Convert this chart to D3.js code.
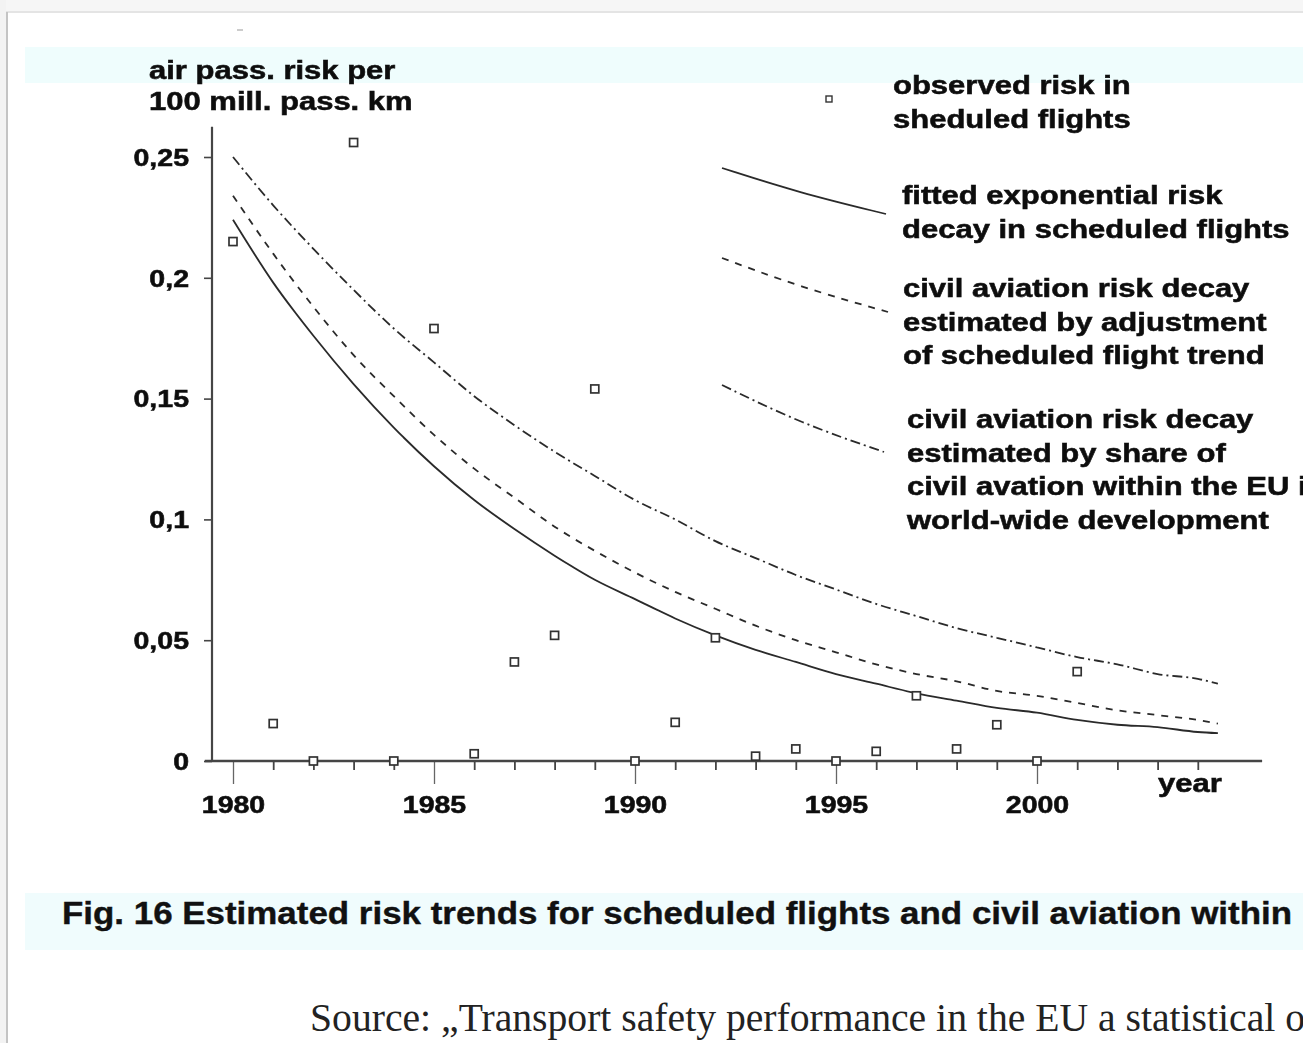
<!DOCTYPE html>
<html>
<head>
<meta charset="utf-8">
<script src="https://cdn.jsdelivr.net/npm/d3@7"></script>
<style>
  body { margin: 0; background: #fff; overflow: hidden; }
  svg { display: block; }
  .lbl { font-family: "Liberation Sans", Arial, sans-serif; font-weight: bold; fill: #111; stroke: #111; stroke-width: 0.55px; }
</style>
</head>
<body>
<svg id="chart" width="1303" height="1043"></svg>
<script>
// DATA
const curveYears   = [1980, 1981, 1982, 1983, 1984, 1985, 1986, 1987, 1988, 1989, 1990, 1991, 1992,
                      1993, 1994, 1995, 1996, 1997, 1998, 1999, 2000, 2001, 2002, 2003, 2004, 2004.5];
const fittedRisk   = [0.224, 0.198, 0.176, 0.156, 0.138, 0.122, 0.108, 0.096, 0.085, 0.075, 0.067, 0.059, 0.052,
                      0.046, 0.041, 0.036, 0.032, 0.028, 0.025, 0.022, 0.020, 0.017, 0.015, 0.014, 0.012, 0.0115];
const adjustedRisk = [0.234, 0.210, 0.188, 0.168, 0.151, 0.135, 0.121, 0.109, 0.097, 0.087, 0.078, 0.070, 0.063,
                      0.056, 0.050, 0.045, 0.040, 0.036, 0.033, 0.029, 0.027, 0.024, 0.021, 0.019, 0.017, 0.0155];
const shareRisk    = [0.250, 0.230, 0.212, 0.195, 0.179, 0.165, 0.151, 0.139, 0.128, 0.118, 0.108, 0.100, 0.091,
                      0.084, 0.077, 0.071, 0.065, 0.060, 0.055, 0.051, 0.047, 0.043, 0.040, 0.036, 0.034, 0.032];

const obsYears = [1980, 1981, 1982, 1983, 1984, 1985, 1986, 1987, 1988, 1989, 1990,
                  1991, 1992, 1993, 1994, 1995, 1996, 1997, 1998, 1999, 2000, 2001];
const obsRisk  = [0.215, 0.0155, 0.0, 0.256, 0.0, 0.179, 0.003, 0.041, 0.052, 0.154, 0.0,
                  0.016, 0.051, 0.002, 0.005, 0.0, 0.004, 0.027, 0.005, 0.015, 0.0, 0.037];

const yTicks      = [0, 0.05, 0.1, 0.15, 0.2, 0.25];
const yTickLabels = ["0", "0,05", "0,1", "0,15", "0,2", "0,25"];
const xMajor      = [1980, 1985, 1990, 1995, 2000];
const xMinor      = [1981, 1982, 1983, 1984, 1986, 1987, 1988, 1989, 1991, 1992, 1993, 1994,
                     1996, 1997, 1998, 1999, 2001, 2002, 2003, 2004];

const yTitle = ["air pass. risk per", "100 mill. pass. km"];
const legendObserved = ["observed risk in", "sheduled flights"];
const legendFitted   = ["fitted exponential risk", "decay in scheduled flights"];
const legendAdjusted = ["civil aviation risk decay", "estimated by adjustment", "of scheduled flight trend"];
const legendShare    = ["civil aviation risk decay", "estimated by share of", "civil avation within the EU in", "world-wide development"];
const caption = "Fig. 16 Estimated risk trends for scheduled flights and civil aviation within";
const source  = "Source: \u201ETransport safety performance in the EU a statistical o";

const svg = d3.select("#chart");
const STRETCH = 1.24;
const ink = "#2a2a2a";

// soft blur, like the scanned original
const defs = svg.append("defs");
defs.append("filter").attr("id", "soft")
  .append("feGaussianBlur").attr("stdDeviation", 0.45);

// stretch text horizontally like the wide scanned font
function stretch(sel, k) {
  sel.each(function () {
    const w = this.getComputedTextLength();
    d3.select(this).attr("textLength", w * k).attr("lengthAdjust", "spacingAndGlyphs");
  });
}

// page frame
svg.append("rect").attr("x", 0).attr("y", 0).attr("width", 1303).attr("height", 12).attr("fill", "#f6f6f6");
svg.append("rect").attr("x", 0).attr("y", 11).attr("width", 1303).attr("height", 2).attr("fill", "#e4e4e4");
svg.append("rect").attr("x", 0).attr("y", 0).attr("width", 6).attr("height", 1043).attr("fill", "#f3f3f3");
svg.append("rect").attr("x", 6).attr("y", 12).attr("width", 2).attr("height", 1031).attr("fill", "#c4c4c4");

// light bands
svg.append("rect").attr("x", 25).attr("y", 47).attr("width", 1278).attr("height", 36).attr("fill", "#effdfd");
svg.append("rect").attr("x", 25).attr("y", 893).attr("width", 1278).attr("height", 57).attr("fill", "#f0fcfd");

const g = svg.append("g").attr("filter", "url(#soft)");

g.append("line").attr("x1", 237).attr("x2", 243).attr("y1", 30).attr("y2", 30)
  .attr("stroke", "#bbb").attr("stroke-width", 1.5);

// SCALES
const x = d3.scaleLinear().domain([1980, 2005]).range([233, 1238]);
const y = d3.scaleLinear().domain([0, 0.25]).range([761, 157]);

// AXES
const gy = g.append("g").attr("transform", `translate(212,0)`)
  .call(d3.axisLeft(y).tickValues(yTicks).tickSize(8).tickPadding(15)
    .tickFormat((d, i) => yTickLabels[i]));
gy.select(".domain").remove();
gy.selectAll(".tick line").attr("stroke", "#444").attr("stroke-width", 1.6);
gy.selectAll(".tick text").attr("class", "lbl").attr("font-size", 23).attr("dy", "0.36em");
g.append("line").attr("x1", 212).attr("x2", 212).attr("y1", y(0.2625)).attr("y2", y(0))
  .attr("stroke", "#444").attr("stroke-width", 2.2);

const gxMinor = g.append("g").attr("transform", `translate(0,${y(0)})`)
  .call(d3.axisBottom(x).tickValues(xMinor).tickSize(9).tickFormat(""));
gxMinor.select(".domain").remove();
gxMinor.selectAll(".tick line").attr("stroke", "#444").attr("stroke-width", 1.8);

const gxMajor = g.append("g").attr("transform", `translate(0,${y(0)})`)
  .call(d3.axisBottom(x).tickValues(xMajor).tickSize(23).tickPadding(12).tickFormat(d3.format("d")));
gxMajor.select(".domain").remove();
gxMajor.selectAll(".tick line").attr("stroke", "#666").attr("stroke-width", 1.3);
gxMajor.selectAll(".tick text").attr("class", "lbl").attr("font-size", 23).attr("dy", "0.75em");

g.append("line").attr("x1", x(1979.3)).attr("x2", x(2005.6)).attr("y1", y(0)).attr("y2", y(0))
  .attr("stroke", "#444").attr("stroke-width", 2.6);

// CURVES
const line = d3.line()
  .x(d => x(d.year))
  .y(d => y(d.v))
  .curve(d3.curveMonotoneX);

const series = [
  { vals: fittedRisk,   dash: null },
  { vals: adjustedRisk, dash: "7,7" },
  { vals: shareRisk,    dash: "10,4,2,4" }
];
series.forEach(s => {
  g.append("path")
    .datum(curveYears.map((yr, i) => ({ year: yr, v: s.vals[i] })))
    .attr("d", line)
    .attr("fill", "none")
    .attr("stroke", ink)
    .attr("stroke-width", 1.8)
    .attr("stroke-dasharray", s.dash);
});

// OBSERVED POINTS
g.selectAll("rect.obs")
  .data(obsYears.map((yr, i) => ({ year: yr, v: obsRisk[i] })))
  .enter()
  .append("rect")
  .attr("class", "obs")
  .attr("x", d => x(d.year) - 4)
  .attr("y", d => y(d.v) - 4)
  .attr("width", 8)
  .attr("height", 8)
  .attr("fill", "#fff")
  .attr("stroke", "#333")
  .attr("stroke-width", 1.7);

// Y TITLE
yTitle.forEach((t, i) => {
  g.append("text").attr("class", "lbl").attr("x", 149).attr("y", 79 + i * 31)
    .attr("font-size", 25).text(t);
});

// LEGEND
g.append("rect").attr("x", 826).attr("y", 96).attr("width", 6).attr("height", 6)
  .attr("fill", "#fff").attr("stroke", "#333").attr("stroke-width", 1.4);

const legLine = d3.line().curve(d3.curveBasis);
g.append("path").attr("d", legLine([[722, 168], [800, 193], [886, 214]]))
  .attr("fill", "none").attr("stroke", ink).attr("stroke-width", 1.8);
g.append("path").attr("d", legLine([[722, 258], [800, 287], [888, 312]]))
  .attr("fill", "none").attr("stroke", ink).attr("stroke-width", 1.8).attr("stroke-dasharray", "7,7");
g.append("path").attr("d", legLine([[722, 385], [800, 423], [884, 452]]))
  .attr("fill", "none").attr("stroke", ink).attr("stroke-width", 1.8).attr("stroke-dasharray", "10,4,2,4");

const legendBlocks = [
  { lines: legendObserved, x: 893, y: 94 },
  { lines: legendFitted,   x: 902, y: 204 },
  { lines: legendAdjusted, x: 903, y: 297 },
  { lines: legendShare,    x: 907, y: 428 }
];
legendBlocks.forEach(b => {
  b.lines.forEach((t, i) => {
    g.append("text").attr("class", "lbl leg").attr("x", b.x).attr("y", b.y + i * 33.5)
      .attr("font-size", 25).text(t);
  });
});

// YEAR LABEL
g.append("text").attr("class", "lbl").attr("x", 1158).attr("y", 792).attr("font-size", 25).text("year");

// stretch sans text
stretch(g.selectAll("text.lbl"), STRETCH);

// CAPTION
svg.append("text").attr("class", "lbl").attr("x", 62).attr("y", 924)
  .attr("font-size", 32).style("stroke-width", "0.4px")
  .attr("textLength", 1230).attr("lengthAdjust", "spacingAndGlyphs")
  .text(caption);

svg.append("text").attr("x", 310).attr("y", 1031)
  .attr("font-family", "'Liberation Serif', 'Times New Roman', serif")
  .attr("font-size", 39).attr("fill", "#222")
  .attr("textLength", 995).attr("lengthAdjust", "spacingAndGlyphs")
  .text(source);
</script>
</body>
</html>
